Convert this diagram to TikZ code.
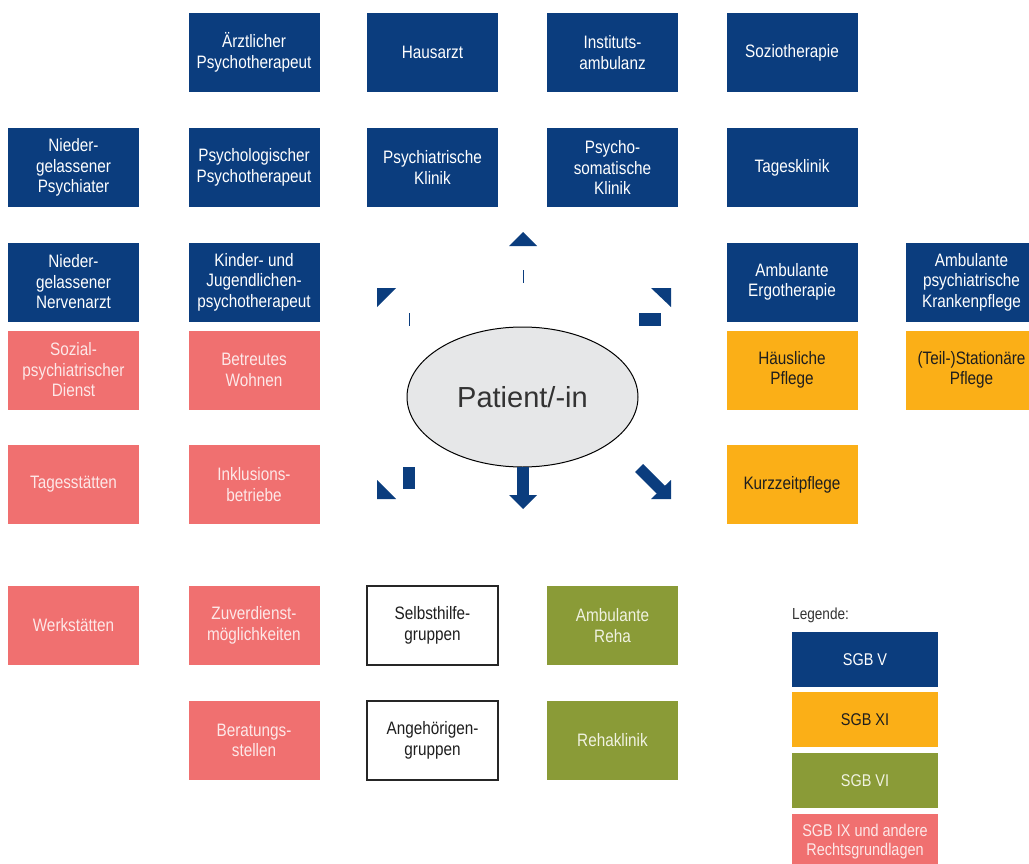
\documentclass[tikz,border=0pt]{standalone}
\usepackage{fontspec}
\setmainfont{Liberation Sans}
\newfontfamily\condfont{Liberation Sans}[FakeStretch=0.85]
\usetikzlibrary{shapes.geometric}

\definecolor{sgbblue}{RGB}{11,61,126}
\definecolor{sgborange}{RGB}{251,175,23}
\definecolor{sgbgreen}{RGB}{138,155,55}
\definecolor{sgbpink}{RGB}{240,112,112}
\definecolor{pinktxt}{RGB}{253,232,232}
\definecolor{greentxt}{RGB}{240,242,225}
\definecolor{darktxt}{RGB}{30,30,30}
\definecolor{ellgray}{RGB}{230,231,232}

\begin{document}
\begin{tikzpicture}[
  x=1pt, y=-1pt,
  blk/.style={rectangle, minimum width=131pt, minimum height=79pt, inner sep=0pt, align=center,
              font=\condfont\fontsize{18}{20.5}\selectfont},
  sgbv/.style={blk, fill=sgbblue, text=white},
  sgbxi/.style={blk, fill=sgborange, text=darktxt},
  sgbvi/.style={blk, fill=sgbgreen, text=greentxt},
  sgbix/.style={blk, fill=sgbpink, text=pinktxt},
  frei/.style={blk, draw=black!85, line width=1.2pt, fill=white, text=darktxt},
  leg/.style={rectangle, minimum width=146pt, minimum height=55pt, inner sep=0pt, align=center,
              font=\condfont\fontsize{17}{18.5}\selectfont},
  frag/.style={fill=sgbblue}
]
\useasboundingbox (0,0) rectangle (1029,864);
\clip (0,0) rectangle (1029,864);

% SGB V
\node[sgbv] (aerzt) at (254,52.5) {Ärztlicher\\Psychotherapeut};
\node[sgbv] (haus) at (432.5,52.5) {Hausarzt};
\node[sgbv] (inst) at (612.5,52.5) {Instituts-\\ambulanz};
\node[sgbv] (sozio) at (792,52.5) {Soziotherapie};
\node[sgbv] (psychiater) at (73.5,167.5) {Nieder-\\gelassener\\Psychiater};
\node[sgbv] (psychol) at (254,167.5) {Psychologischer\\Psychotherapeut};
\node[sgbv] (psyklin) at (432.5,167.5) {Psychiatrische\\Klinik};
\node[sgbv] (psysom) at (612.5,167.5) {Psycho-\\somatische\\Klinik};
\node[sgbv] (tages) at (792,167.5) {Tagesklinik};
\node[sgbv] (nerven) at (73.5,282) {Nieder-\\gelassener\\Nervenarzt};
\node[sgbv] (kinder) at (254,282) {Kinder- und\\Jugendlichen-\\psychotherapeut};
\node[sgbv] (ergo) at (792,282) {Ambulante\\Ergotherapie};
\node[sgbv] (ambpfl) at (971.5,282) {Ambulante\\psychiatrische\\Krankenpflege};

% SGB XI
\node[sgbxi] (haeusl) at (792,370) {Häusliche\\Pflege};
\node[sgbxi] (station) at (971.5,370) {(Teil-)Stationäre\\Pflege};
\node[sgbxi] (kurz) at (792,484.5) {Kurzzeitpflege};

% SGB IX u.a.
\node[sgbix] (spdi) at (73.5,370) {Sozial-\\psychiatrischer\\Dienst};
\node[sgbix] (wohnen) at (254,370) {Betreutes\\Wohnen};
\node[sgbix] (tagst) at (73.5,484.5) {Tagesstätten};
\node[sgbix] (inkl) at (254,484.5) {Inklusions-\\betriebe};
\node[sgbix] (werk) at (73.5,625.5) {Werkstätten};
\node[sgbix] (zuver) at (254,625.5) {Zuverdienst-\\möglichkeiten};
\node[sgbix] (berat) at (254,740.5) {Beratungs-\\stellen};

% ohne Kostentraeger
\node[frei] (selbst) at (432.5,625.5) {Selbsthilfe-\\gruppen};
\node[frei] (angeh) at (432.5,740.5) {Angehörigen-\\gruppen};

% SGB VI
\node[sgbvi] (reha) at (612.5,625.5) {Ambulante\\Reha};
\node[sgbvi] (rehakl) at (612.5,740.5) {Rehaklinik};

% Patient
\node[ellipse, draw=black, line width=1pt, fill=ellgray, minimum width=231pt, minimum height=140pt,
      text=black!80, font=\fontsize{29}{33}\selectfont] (pat) at (522.5,397) {Patient/-in};

% Pfeilreste
\fill[frag] (523,232) -- (537,246) -- (509,246) -- cycle;
\fill[frag] (522.5,270) rectangle (524,283);
\fill[frag] (377,288) -- (396,288) -- (377,307) -- cycle;
\fill[frag] (408.5,313) rectangle (410,326);
\fill[frag] (651,288) -- (671,288) -- (671,307) -- cycle;
\fill[frag] (639,313) rectangle (661,326);
\fill[frag] (377,480) -- (377,499) -- (396,499) -- cycle;
\fill[frag] (403,467) rectangle (415,489);
\fill[frag] (517,467) rectangle (529,495);
\fill[frag] (509,495) -- (537,495) -- (523,509) -- cycle;
\fill[frag] (635,472) -- (643,464) -- (666,487) -- (658,495) -- cycle;
\fill[frag] (651,499) -- (671,499) -- (671,480) -- cycle;

% Legende
\node[anchor=west, inner sep=0pt, text=black!80, font=\condfont\fontsize{16}{18}\selectfont] (legtitel) at (792,615) {Legende:};
\node[leg, fill=sgbblue, text=white] (legv) at (865,659.5) {SGB V};
\node[leg, fill=sgborange, text=darktxt] (legxi) at (865,719.5) {SGB XI};
\node[leg, fill=sgbgreen, text=greentxt] (legvi) at (865,780.5) {SGB VI};
\node[leg, fill=sgbpink, text=pinktxt] (legix) at (865,841.5) {SGB IX und andere\\Rechtsgrundlagen};
\end{tikzpicture}
\end{document}
